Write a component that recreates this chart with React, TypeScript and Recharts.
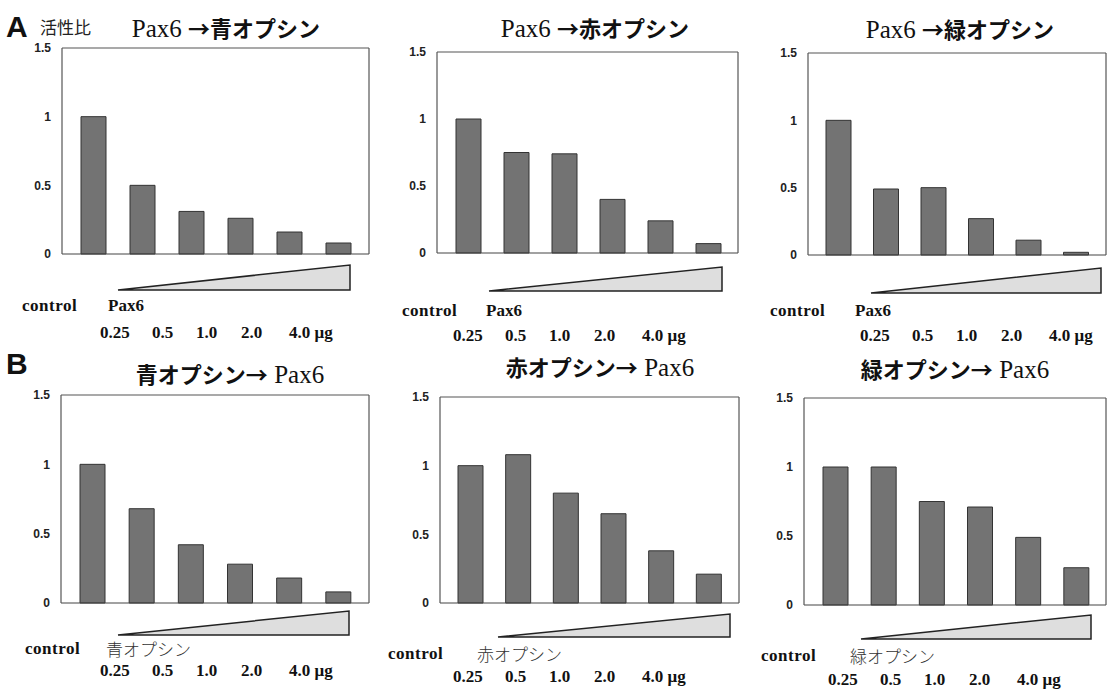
import React from "react";
import { BarChart, Bar, XAxis, YAxis } from "recharts";

// doses (x categories) and activity ratios
const categories = ["control", "0.25", "0.5", "1.0", "2.0", "4.0"];
const pax6ToBlue = [1.0, 0.5, 0.31, 0.26, 0.16, 0.08];
const pax6ToRed = [1.0, 0.75, 0.74, 0.4, 0.24, 0.07];
const pax6ToGreen = [1.0, 0.49, 0.5, 0.27, 0.11, 0.02];
const blueToPax6 = [1.0, 0.68, 0.42, 0.28, 0.18, 0.08];
const redToPax6 = [1.0, 1.08, 0.8, 0.65, 0.38, 0.21];
const greenToPax6 = [1.0, 1.0, 0.75, 0.71, 0.49, 0.27];
const yTicks = [0, 0.5, 1, 1.5];
const doseLabels = ["0.25", "0.5", "1.0", "2.0", "4.0 μg"];

const panels = [
  { id: "a1", pre: "Pax6 ", jp: "→青オプシン", post: "", reagent: "Pax6", values: pax6ToBlue },
  { id: "a2", pre: "Pax6 ", jp: "→赤オプシン", post: "", reagent: "Pax6", values: pax6ToRed },
  { id: "a3", pre: "Pax6 ", jp: "→緑オプシン", post: "", reagent: "Pax6", values: pax6ToGreen },
  { id: "b1", pre: "", jp: "青オプシン→", post: " Pax6", reagent: "青オプシン", values: blueToPax6 },
  { id: "b2", pre: "", jp: "赤オプシン→", post: " Pax6", reagent: "赤オプシン", values: redToPax6 },
  { id: "b3", pre: "", jp: "緑オプシン→", post: " Pax6", reagent: "緑オプシン", values: greenToPax6 },
];

// layout per panel (page pixels)
const layout = {
  a1: { L: 62, T: 47, R: 370, B: 254, tx: 226, ty: 27, tri: [118, 350, 265, 290], cx: 22, rx: 108, ry: 306, dx: 100, dy: 333 },
  a2: { L: 437, T: 51, R: 739, B: 253, tx: 595, ty: 27, tri: [489, 722, 267, 291], cx: 402, rx: 486, ry: 311, dx: 453, dy: 336 },
  a3: { L: 808, T: 52, R: 1107, B: 255, tx: 960, ty: 28, tri: [871, 1101, 268, 293], cx: 770, rx: 855, ry: 311, dx: 860, dy: 336 },
  b1: { L: 61, T: 394, R: 370, B: 603, tx: 230, ty: 373, tri: [118, 349, 611, 635], cx: 25, rx: 106, ry: 649, dx: 100, dy: 671 },
  b2: { L: 440, T: 396, R: 740, B: 603, tx: 600, ty: 366, tri: [498, 730, 614, 637], cx: 388, rx: 477, ry: 654, dx: 453, dy: 677 },
  b3: { L: 804, T: 397, R: 1107, B: 605, tx: 955, ty: 368, tri: [861, 1091, 615, 639], cx: 761, rx: 850, ry: 656, dx: 828, dy: 680 },
};
const doseOffsets = [0, 52, 96, 141, 189];

const serif = '"Liberation Serif", "DejaVu Serif", serif';
const gothic = '"Noto Sans CJK JP", sans-serif';
const sans = '"Liberation Sans", Arial, sans-serif';

const Panel = ({ p }) => {
  const g = layout[p.id];
  const data = categories.map((name, i) => ({ name, value: p.values[i] }));
  const isA = p.id.startsWith("a");
  const tw = g.tri[1] - g.tri[0];
  const th = g.tri[3] - g.tri[2];
  return (
    <>
      <div
        style={{
          position: "absolute",
          left: g.tx,
          top: g.ty,
          transform: "translate(-50%, -50%)",
          whiteSpace: "nowrap",
          color: "#111",
        }}
      >
        {p.pre && <span style={{ fontFamily: serif, fontSize: 25 }}>{p.pre}</span>}
        <span style={{ fontFamily: gothic, fontSize: 22, fontWeight: 700 }}>{p.jp}</span>
        {p.post && <span style={{ fontFamily: serif, fontSize: 25 }}>{p.post}</span>}
      </div>
      <div style={{ position: "absolute", left: g.L - 40, top: g.T - 8 }}>
        <BarChart
          width={g.R - g.L + 41}
          height={g.B - g.T + 17}
          data={data}
          margin={{ top: 8, right: 1, bottom: 8, left: 0 }}
        >
          <XAxis
            dataKey="name"
            tick={false}
            tickLine={false}
            height={1}
            padding={{ left: 7, right: 6 }}
            axisLine={{ stroke: "#444", strokeWidth: 1.2 }}
          />
          <XAxis
            xAxisId="top"
            orientation="top"
            dataKey="name"
            tick={false}
            tickLine={false}
            height={1}
            axisLine={{ stroke: "#555", strokeWidth: 1.2 }}
          />
          <YAxis
            domain={[0, 1.5]}
            ticks={yTicks}
            interval={0}
            width={40}
            tickLine={false}
            tickSize={0}
            tickMargin={11}
            axisLine={{ stroke: "#555", strokeWidth: 1.2 }}
            tick={{ fontSize: 12, fontWeight: 700, fill: "#222", fontFamily: sans }}
          />
          <YAxis
            yAxisId="right"
            orientation="right"
            domain={[0, 1.5]}
            width={1}
            tick={false}
            tickLine={false}
            axisLine={{ stroke: "#555", strokeWidth: 1.2 }}
          />
          <Bar
            dataKey="value"
            fill="#737373"
            stroke="#333"
            strokeWidth={1}
            barSize={25}
            isAnimationActive={false}
          />
        </BarChart>
      </div>
      <svg
        width={tw + 4}
        height={th + 4}
        style={{ position: "absolute", left: g.tri[0] - 2, top: g.tri[2] - 2 }}
      >
        <polygon
          points={`2,${th + 2} ${tw + 2},2 ${tw + 2},${th + 2}`}
          fill="#dedede"
          stroke="#222"
          strokeWidth={1.5}
        />
      </svg>
      <div
        style={{
          position: "absolute",
          left: g.cx,
          top: g.ry,
          transform: "translateY(-50%)",
          fontFamily: serif,
          fontWeight: 700,
          fontSize: 17,
          lineHeight: "18px",
          color: "#111",
          letterSpacing: 0.5,
        }}
      >
        control
      </div>
      <div
        style={{
          position: "absolute",
          left: g.rx,
          top: g.ry,
          transform: "translateY(-50%)",
          whiteSpace: "nowrap",
          fontFamily: isA ? serif : gothic,
          fontWeight: isA ? 700 : 300,
          fontSize: 17,
          lineHeight: "18px",
          color: isA ? "#111" : "#333",
        }}
      >
        {p.reagent}
      </div>
      {doseLabels.map((d, i) => (
        <div
          key={d}
          style={{
            position: "absolute",
            left: g.dx + doseOffsets[i],
            top: g.dy,
            transform: "translateY(-50%)",
            whiteSpace: "nowrap",
            fontFamily: serif,
            fontWeight: 700,
            fontSize: 17,
            lineHeight: "18px",
            color: "#111",
          }}
        >
          {d}
        </div>
      ))}
    </>
  );
};

const App = () => {
  return (
    <div
      style={{
        position: "absolute",
        left: 0,
        top: 0,
        width: 1108,
        height: 695,
        background: "#fff",
        overflow: "hidden",
      }}
    >
      <div style={{ position: "absolute", left: 6, top: 27, transform: "translateY(-50%)", fontFamily: sans, fontWeight: 700, fontSize: 30, color: "#111" }}>
        A
      </div>
      <div style={{ position: "absolute", left: 40, top: 26, transform: "translateY(-50%)", fontFamily: gothic, fontSize: 17, color: "#222" }}>
        活性比
      </div>
      <div style={{ position: "absolute", left: 6, top: 364, transform: "translateY(-50%)", fontFamily: sans, fontWeight: 700, fontSize: 30, color: "#111" }}>
        B
      </div>
      {panels.map((p) => (
        <Panel key={p.id} p={p} />
      ))}
    </div>
  );
};

export default App;
